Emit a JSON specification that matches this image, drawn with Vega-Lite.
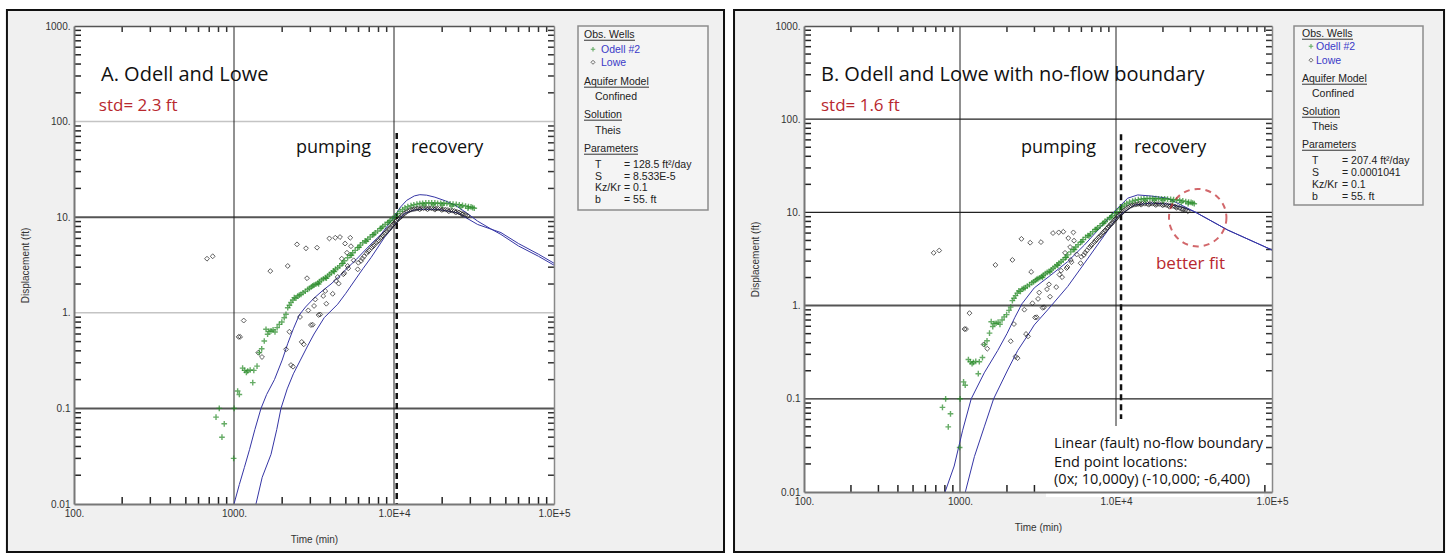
{
 "$schema": "https://vega.github.io/schema/vega-lite/v6.json",
 "background": "white",
 "padding": {"left": 5, "top": 8, "right": 5, "bottom": 0},
 "config": {"view": {"stroke": null}, "font": "Liberation Sans"},
 "datasets": {
  "xticks": [{"t":200,"sb":0.01,"st":1000},{"t":300,"sb":0.01,"st":1000},{"t":400,"sb":0.01,"st":1000},{"t":500,"sb":0.01,"st":1000},{"t":600,"sb":0.01,"st":1000},{"t":700,"sb":0.01,"st":1000},{"t":800,"sb":0.01,"st":1000},{"t":900,"sb":0.01,"st":1000},
             {"t":2000,"sb":0.01,"st":1000},{"t":3000,"sb":0.01,"st":1000},{"t":4000,"sb":0.01,"st":1000},{"t":5000,"sb":0.01,"st":1000},{"t":6000,"sb":0.01,"st":1000},{"t":7000,"sb":0.01,"st":1000},{"t":8000,"sb":0.01,"st":1000},{"t":9000,"sb":0.01,"st":1000},
             {"t":20000,"sb":0.01,"st":1000},{"t":30000,"sb":0.01,"st":1000},{"t":40000,"sb":0.01,"st":1000},{"t":50000,"sb":0.01,"st":1000},{"t":60000,"sb":0.01,"st":1000},{"t":70000,"sb":0.01,"st":1000},{"t":80000,"sb":0.01,"st":1000},{"t":90000,"sb":0.01,"st":1000}],
  "yticks": [{"s":0.02,"tl":100,"tr":100000},{"s":0.03,"tl":100,"tr":100000},{"s":0.04,"tl":100,"tr":100000},{"s":0.05,"tl":100,"tr":100000},{"s":0.06,"tl":100,"tr":100000},{"s":0.07,"tl":100,"tr":100000},{"s":0.08,"tl":100,"tr":100000},{"s":0.09,"tl":100,"tr":100000},
             {"s":0.2,"tl":100,"tr":100000},{"s":0.3,"tl":100,"tr":100000},{"s":0.4,"tl":100,"tr":100000},{"s":0.5,"tl":100,"tr":100000},{"s":0.6,"tl":100,"tr":100000},{"s":0.7,"tl":100,"tr":100000},{"s":0.8,"tl":100,"tr":100000},{"s":0.9,"tl":100,"tr":100000},
             {"s":2,"tl":100,"tr":100000},{"s":3,"tl":100,"tr":100000},{"s":4,"tl":100,"tr":100000},{"s":5,"tl":100,"tr":100000},{"s":6,"tl":100,"tr":100000},{"s":7,"tl":100,"tr":100000},{"s":8,"tl":100,"tr":100000},{"s":9,"tl":100,"tr":100000},
             {"s":20,"tl":100,"tr":100000},{"s":30,"tl":100,"tr":100000},{"s":40,"tl":100,"tr":100000},{"s":50,"tl":100,"tr":100000},{"s":60,"tl":100,"tr":100000},{"s":70,"tl":100,"tr":100000},{"s":80,"tl":100,"tr":100000},{"s":90,"tl":100,"tr":100000},
             {"s":200,"tl":100,"tr":100000},{"s":300,"tl":100,"tr":100000},{"s":400,"tl":100,"tr":100000},{"s":500,"tl":100,"tr":100000},{"s":600,"tl":100,"tr":100000},{"s":700,"tl":100,"tr":100000},{"s":800,"tl":100,"tr":100000},{"s":900,"tl":100,"tr":100000}],
  "odell": [
   {"t":772,"s":0.081},{"t":809,"s":0.1},{"t":841,"s":0.05},{"t":869,"s":0.069},{"t":995,"s":0.03},{"t":1002,"s":0.1},{"t":1054,"s":0.152},{"t":1080,"s":0.14},
   {"t":1132,"s":0.264},{"t":1165,"s":0.25},{"t":1195,"s":0.238},{"t":1218,"s":0.246},{"t":1262,"s":0.252},{"t":1310,"s":0.186},{"t":1330,"s":0.25},{"t":1393,"s":0.277},
   {"t":1439,"s":0.383},{"t":1490,"s":0.42},{"t":1546,"s":0.507},{"t":1585,"s":0.672},{"t":1622,"s":0.596},{"t":1655,"s":0.64},{"t":1703,"s":0.646},{"t":1755,"s":0.665},
   {"t":1804,"s":0.63},{"t":1860,"s":0.7},{"t":1918,"s":0.757},{"t":1990,"s":0.8},{"t":2061,"s":0.889},{"t":2113,"s":0.964},{"t":2167,"s":1.13},{"t":2220,"s":1.2},
   {"t":2270,"s":1.28},{"t":2330,"s":1.36},{"t":2382,"s":1.44},{"t":2440,"s":1.42},{"t":2500,"s":1.5},{"t":2560,"s":1.53},{"t":2622,"s":1.56},{"t":2700,"s":1.62},
   {"t":2790,"s":1.68},{"t":2885,"s":1.76},{"t":2960,"s":1.8},{"t":3040,"s":1.86},{"t":3100,"s":1.91},{"t":3165,"s":1.95},{"t":3250,"s":1.99},{"t":3335,"s":2.05},
   {"t":3420,"s":2.12},{"t":3520,"s":2.2},{"t":3620,"s":2.27},{"t":3720,"s":2.33},{"t":3847,"s":2.42},{"t":3950,"s":2.52},{"t":4060,"s":2.62},{"t":4180,"s":2.74},
   {"t":4310,"s":2.86},{"t":4446,"s":2.96},{"t":4580,"s":3.1},{"t":4730,"s":3.27},{"t":4900,"s":3.5},{"t":5130,"s":3.77},{"t":5320,"s":4.0},{"t":5520,"s":4.25},
   {"t":5720,"s":4.5},{"t":5931,"s":4.8},{"t":6150,"s":5.1},{"t":6380,"s":5.4},{"t":6600,"s":5.65},{"t":6849,"s":5.87},{"t":7100,"s":6.2},{"t":7350,"s":6.55},
   {"t":7620,"s":6.85},{"t":7907,"s":7.18},{"t":8200,"s":7.6},{"t":8500,"s":8.0},{"t":8800,"s":8.4},{"t":9128,"s":8.77},{"t":9450,"s":9.2},{"t":9800,"s":9.7},
   {"t":10150,"s":10.2},{"t":10540,"s":10.9},{"t":10900,"s":11.5},{"t":11300,"s":12.0},{"t":11700,"s":12.5},{"t":12200,"s":12.9},{"t":12770,"s":13.2},{"t":13300,"s":13.5},
   {"t":13900,"s":13.7},{"t":14500,"s":13.9},{"t":15100,"s":14.0},{"t":15800,"s":14.1},{"t":16500,"s":14.1},{"t":17200,"s":14.1},{"t":18000,"s":14.1},{"t":18740,"s":14.0},
   {"t":19600,"s":14.0},{"t":20500,"s":14.0},{"t":21400,"s":13.9},{"t":22400,"s":13.8},{"t":23400,"s":13.7},{"t":24500,"s":13.6},{"t":25600,"s":13.5},{"t":26800,"s":13.3},
   {"t":28000,"s":13.1},{"t":29200,"s":12.9},{"t":30300,"s":12.8},{"t":31000,"s":12.6},{"t":31750,"s":12.4},
   {"t":15400,"s":13.4},{"t":17600,"s":13.5},{"t":20000,"s":13.4},{"t":23000,"s":13.1},{"t":26200,"s":12.8},{"t":29000,"s":12.4},
   {"t":3380,"s":2.0},{"t":3780,"s":2.3},{"t":4240,"s":2.7},{"t":4800,"s":3.3},{"t":5420,"s":4.0},{"t":6050,"s":4.85},{"t":6720,"s":5.6},{"t":7480,"s":6.6},{"t":8350,"s":7.7},{"t":9300,"s":8.9}
  ],
  "lowe": [
   {"t":678,"s":3.68},{"t":736,"s":3.9},{"t":1069,"s":0.56},{"t":1092,"s":0.56},{"t":1150,"s":0.83},{"t":1419,"s":0.383},{"t":1496,"s":0.345},{"t":1686,"s":2.73},
   {"t":2115,"s":0.415},{"t":2167,"s":3.09},{"t":2218,"s":0.634},{"t":2270,"s":0.284},{"t":2339,"s":0.273},{"t":2476,"s":5.2},{"t":2585,"s":0.904},{"t":2650,"s":0.496},
   {"t":2728,"s":0.468},{"t":2818,"s":4.73},{"t":2860,"s":2.3},{"t":2912,"s":1.06},{"t":3027,"s":0.745},{"t":3104,"s":0.75},{"t":3165,"s":1.18},{"t":3220,"s":1.38},
   {"t":3304,"s":4.8},{"t":3381,"s":0.949},{"t":3457,"s":0.96},{"t":3612,"s":1.5},{"t":3720,"s":1.69},{"t":3776,"s":1.245},{"t":3945,"s":6.0},{"t":4138,"s":1.58},
   {"t":4295,"s":6.1},{"t":4342,"s":2.15},{"t":4446,"s":2.37},{"t":4512,"s":2.02},{"t":4597,"s":6.2},{"t":4712,"s":3.68},{"t":4822,"s":2.53},{"t":4887,"s":2.6},
   {"t":4945,"s":5.3},{"t":5080,"s":4.25},{"t":5130,"s":3.09},{"t":5180,"s":2.92},{"t":5330,"s":6.1},{"t":5383,"s":4.97},{"t":5598,"s":3.54},{"t":5931,"s":2.85},
   {"t":5990,"s":3.34},{"t":6220,"s":3.49},{"t":6500,"s":3.9},{"t":6750,"s":4.2},{"t":7000,"s":4.5},{"t":7250,"s":4.8},{"t":7500,"s":5.1},{"t":7750,"s":5.4},
   {"t":8000,"s":5.7},{"t":8250,"s":6.05},{"t":8500,"s":6.4},{"t":8750,"s":6.75},{"t":9000,"s":7.1},{"t":9250,"s":7.45},{"t":9500,"s":7.8},{"t":9750,"s":8.2},
   {"t":10000,"s":8.6},{"t":10270,"s":9.05},{"t":10540,"s":9.5},{"t":10800,"s":9.8},{"t":11030,"s":10.1},{"t":11300,"s":10.5},{"t":11590,"s":10.9},{"t":11900,"s":11.3},
   {"t":12200,"s":11.6},{"t":12500,"s":11.8},{"t":12800,"s":12.0},{"t":13150,"s":12.1},{"t":13500,"s":12.2},{"t":13850,"s":12.3},{"t":14200,"s":12.4},{"t":14750,"s":12.4},
   {"t":15300,"s":12.4},{"t":15900,"s":12.4},{"t":16500,"s":12.4},{"t":17100,"s":12.4},{"t":17700,"s":12.3},{"t":18300,"s":12.3},{"t":18900,"s":12.3},{"t":19600,"s":12.2},
   {"t":20300,"s":12.1},{"t":21000,"s":12.0},{"t":21700,"s":11.9},{"t":22500,"s":11.8},{"t":23200,"s":11.7},{"t":23900,"s":11.6},{"t":24700,"s":11.4},{"t":25500,"s":11.2},
   {"t":26300,"s":11.0},{"t":27100,"s":10.8},{"t":28000,"s":10.6},{"t":28880,"s":10.3},
   {"t":6350,"s":3.7},{"t":6880,"s":4.35},{"t":7380,"s":4.95},{"t":7880,"s":5.55},{"t":8380,"s":6.2},{"t":8880,"s":6.9},{"t":9380,"s":7.6},{"t":9880,"s":8.4},{"t":10400,"s":9.3},
   {"t":14500,"s":12.1},{"t":16200,"s":12.1},{"t":18000,"s":12.0},{"t":19900,"s":11.9},{"t":22000,"s":11.5},{"t":24300,"s":11.2},{"t":26700,"s":10.7}
  ],
  "fitA": [
   {"curve":"A1","t":1000,"s":0.01},{"curve":"A1","t":1080,"s":0.016},{"curve":"A1","t":1160,"s":0.024},{"curve":"A1","t":1250,"s":0.037},{"curve":"A1","t":1350,"s":0.06},
   {"curve":"A1","t":1475,"s":0.1},{"curve":"A1","t":1600,"s":0.14},{"curve":"A1","t":1790,"s":0.2},{"curve":"A1","t":2000,"s":0.32},{"curve":"A1","t":2170,"s":0.48},
   {"curve":"A1","t":2350,"s":0.68},{"curve":"A1","t":2560,"s":0.95},{"curve":"A1","t":2800,"s":1.15},{"curve":"A1","t":3160,"s":1.42},{"curve":"A1","t":3600,"s":1.72},
   {"curve":"A1","t":4040,"s":2.0},{"curve":"A1","t":4600,"s":2.45},{"curve":"A1","t":5130,"s":2.96},{"curve":"A1","t":5800,"s":3.6},{"curve":"A1","t":6520,"s":4.43},
   {"curve":"A1","t":7400,"s":5.5},{"curve":"A1","t":8300,"s":6.6},{"curve":"A1","t":9200,"s":8.3},{"curve":"A1","t":10040,"s":10.2},{"curve":"A1","t":11000,"s":12.8},
   {"curve":"A1","t":12000,"s":15.0},{"curve":"A1","t":13400,"s":16.7},{"curve":"A1","t":14500,"s":17.2},{"curve":"A1","t":16000,"s":17.0},{"curve":"A1","t":18000,"s":16.2},
   {"curve":"A1","t":21000,"s":14.8},{"curve":"A1","t":24000,"s":13.4},{"curve":"A1","t":28000,"s":11.3},{"curve":"A1","t":33300,"s":9.1},{"curve":"A1","t":40000,"s":7.6},
   {"curve":"A1","t":46600,"s":6.6},{"curve":"A1","t":60000,"s":5.0},{"curve":"A1","t":80000,"s":3.9},{"curve":"A1","t":100000,"s":3.15},
   {"curve":"A2","t":1372,"s":0.01},{"curve":"A2","t":1500,"s":0.019},{"curve":"A2","t":1703,"s":0.033},{"curve":"A2","t":1850,"s":0.06},{"curve":"A2","t":1966,"s":0.1},
   {"curve":"A2","t":2150,"s":0.16},{"curve":"A2","t":2350,"s":0.23},{"curve":"A2","t":2600,"s":0.32},{"curve":"A2","t":2885,"s":0.45},{"curve":"A2","t":3165,"s":0.6},
   {"curve":"A2","t":3663,"s":0.889},{"curve":"A2","t":4446,"s":1.23},{"curve":"A2","t":5000,"s":1.6},{"curve":"A2","t":5650,"s":2.15},{"curve":"A2","t":6400,"s":2.9},
   {"curve":"A2","t":7180,"s":3.77},{"curve":"A2","t":8690,"s":6.1},{"curve":"A2","t":10540,"s":9.1},{"curve":"A2","t":11590,"s":10.9},{"curve":"A2","t":13400,"s":11.9},
   {"curve":"A2","t":14750,"s":12.1},{"curve":"A2","t":18740,"s":12.1},{"curve":"A2","t":25000,"s":11.1},{"curve":"A2","t":33300,"s":8.4},{"curve":"A2","t":46600,"s":6.9},
   {"curve":"A2","t":60000,"s":5.3},{"curve":"A2","t":80000,"s":4.1},{"curve":"A2","t":100000,"s":3.3}
  ],
  "fitB": [
   {"curve":"B1","t":802,"s":0.01},{"curve":"B1","t":918,"s":0.019},{"curve":"B1","t":1040,"s":0.046},{"curve":"B1","t":1180,"s":0.1},{"curve":"B1","t":1431,"s":0.19},
   {"curve":"B1","t":1745,"s":0.33},{"curve":"B1","t":2000,"s":0.5},{"curve":"B1","t":2250,"s":0.75},{"curve":"B1","t":2500,"s":1.05},{"curve":"B1","t":2993,"s":1.55},
   {"curve":"B1","t":3828,"s":2.13},{"curve":"B1","t":4898,"s":2.96},{"curve":"B1","t":6268,"s":4.46},{"curve":"B1","t":8017,"s":7.03},{"curve":"B1","t":9750,"s":10.2},
   {"curve":"B1","t":11880,"s":14.2},{"curve":"B1","t":13770,"s":15.4},{"curve":"B1","t":16750,"s":15.0},{"curve":"B1","t":21400,"s":14.2},{"curve":"B1","t":31800,"s":10.2},
   {"curve":"B1","t":52000,"s":6.47},{"curve":"B1","t":100000,"s":3.95},
   {"curve":"B2","t":1082,"s":0.01},{"curve":"B2","t":1237,"s":0.024},{"curve":"B2","t":1431,"s":0.05},{"curve":"B2","t":1643,"s":0.1},{"curve":"B2","t":2022,"s":0.204},
   {"curve":"B2","t":2344,"s":0.33},{"curve":"B2","t":2718,"s":0.48},{"curve":"B2","t":2993,"s":0.62},{"curve":"B2","t":3648,"s":0.9},{"curve":"B2","t":4898,"s":1.6},
   {"curve":"B2","t":6268,"s":2.84},{"curve":"B2","t":8017,"s":5.06},{"curve":"B2","t":10260,"s":9.0},{"curve":"B2","t":13100,"s":12.0},{"curve":"B2","t":16750,"s":12.6},
   {"curve":"B2","t":21400,"s":12.3},{"curve":"B2","t":27000,"s":11.3},{"curve":"B2","t":31800,"s":10.2},{"curve":"B2","t":52000,"s":6.47},{"curve":"B2","t":100000,"s":3.95}
  ],
  "legA": [
   {"role":"header","col":0.6,"line":0.8,"text":"Obs. Wells"},
   {"role":"header","col":0.6,"line":3.93,"text":"Aquifer Model"},
   {"role":"header","col":0.6,"line":6.13,"text":"Solution"},
   {"role":"header","col":0.6,"line":8.4,"text":"Parameters"},
   {"role":"well","col":2.3,"line":1.8,"text":"Odell #2"},
   {"role":"well","col":2.3,"line":2.67,"text":"Lowe"},
   {"role":"body","col":1.7,"line":4.93,"text":"Confined"},
   {"role":"body","col":1.7,"line":7.2,"text":"Theis"},
   {"role":"body","col":1.7,"line":9.47,"text":"T"},
   {"role":"body","col":4.6,"line":9.47,"text":"= 128.5 ft²/day"},
   {"role":"body","col":1.7,"line":10.27,"text":"S"},
   {"role":"body","col":4.6,"line":10.27,"text":"= 8.533E-5"},
   {"role":"body","col":1.7,"line":11.0,"text":"Kz/Kr"},
   {"role":"body","col":4.6,"line":11.0,"text":"= 0.1"},
   {"role":"body","col":1.7,"line":11.8,"text":"b"},
   {"role":"body","col":4.6,"line":11.8,"text":"= 55. ft"}
  ],
  "ulA": [
   {"col":0.6,"col2":5.7,"line":0.95},{"col":0.6,"col2":7.1,"line":4.08},{"col":0.6,"col2":4.4,"line":6.28},{"col":0.6,"col2":6.0,"line":8.55}
  ],
  "symA": [
   {"well":"Odell #2","col":1.5,"line":1.55},{"well":"Lowe","col":1.5,"line":2.42}
  ],
  "legB": [
   {"role":"header","col":0.8,"line":0.73,"text":"Obs. Wells"},
   {"role":"header","col":0.8,"line":3.73,"text":"Aquifer Model"},
   {"role":"header","col":0.8,"line":5.93,"text":"Solution"},
   {"role":"header","col":0.8,"line":8.13,"text":"Parameters"},
   {"role":"well","col":2.2,"line":1.6,"text":"Odell #2"},
   {"role":"well","col":2.2,"line":2.53,"text":"Lowe"},
   {"role":"body","col":1.8,"line":4.73,"text":"Confined"},
   {"role":"body","col":1.8,"line":6.93,"text":"Theis"},
   {"role":"body","col":1.8,"line":9.2,"text":"T"},
   {"role":"body","col":4.8,"line":9.2,"text":"= 207.4 ft²/day"},
   {"role":"body","col":1.8,"line":10.0,"text":"S"},
   {"role":"body","col":4.8,"line":10.0,"text":"= 0.0001041"},
   {"role":"body","col":1.8,"line":10.8,"text":"Kz/Kr"},
   {"role":"body","col":4.8,"line":10.8,"text":"= 0.1"},
   {"role":"body","col":1.8,"line":11.6,"text":"b"},
   {"role":"body","col":4.8,"line":11.6,"text":"= 55. ft"}
  ],
  "ulB": [
   {"col":0.8,"col2":5.9,"line":0.88},{"col":0.8,"col2":7.3,"line":3.88},{"col":0.8,"col2":4.6,"line":6.08},{"col":0.8,"col2":6.2,"line":8.28}
  ],
  "symB": [
   {"well":"Odell #2","col":1.7,"line":1.35},{"well":"Lowe","col":1.7,"line":2.28}
  ]
 },
 "hconcat": [
  {
   "width": 480, "height": 478,
   "layer": [
    {"data":{"values":[{}]},"mark":{"type":"rect","fill":"#f0f0f0","stroke":"#111111","strokeWidth":2,"clip":false},
     "encoding":{"x":{"datum":38.1,"type":"quantitative","scale":{"type":"log","domain":[100,100000],"nice":false},"axis":null},"x2":{"datum":1155000},
                 "y":{"datum":0.00315,"type":"quantitative","scale":{"type":"log","domain":[0.01,1000],"nice":false},"axis":null},"y2":{"datum":1469}}},
    {"data":{"values":[{}]},"mark":{"type":"rect","fill":"#ffffff"},
     "encoding":{"x":{"datum":100,"type":"quantitative","scale":{"type":"log","domain":[100,100000],"nice":false},"axis":null},"x2":{"datum":100000},
                 "y":{"datum":0.01,"type":"quantitative","scale":{"type":"log","domain":[0.01,1000],"nice":false},"axis":null},"y2":{"datum":1000}}},
    {"data":{"values":[{"s":100},{"s":1}]},"mark":{"type":"rule","stroke":"#c4c4c4","strokeWidth":1.5},
     "encoding":{"y":{"field":"s","type":"quantitative","scale":{"type":"log","domain":[0.01,1000],"nice":false},"axis":null}}},
    {"data":{"values":[{"s":10},{"s":0.1}]},"mark":{"type":"rule","stroke":"#555555","strokeWidth":2},
     "encoding":{"y":{"field":"s","type":"quantitative","scale":{"type":"log","domain":[0.01,1000],"nice":false},"axis":null}}},
    {"data":{"values":[{"t":1000},{"t":10000}]},"mark":{"type":"rule","stroke":"#222222","strokeWidth":1},
     "encoding":{"x":{"field":"t","type":"quantitative","scale":{"type":"log","domain":[100,100000],"nice":false},"axis":null}}},
    {"data":{"name":"xticks"},"mark":{"type":"tick","orient":"vertical","size":14,"thickness":1.5,"color":"#222222","opacity":1,"clip":true},
     "encoding":{"x":{"field":"t","type":"quantitative","scale":{"type":"log","domain":[100,100000],"nice":false},"axis":null},
                 "y":{"field":"sb","type":"quantitative","scale":{"type":"log","domain":[0.01,1000],"nice":false},"axis":null}}},
    {"data":{"name":"xticks"},"mark":{"type":"tick","orient":"vertical","size":12,"thickness":1.5,"color":"#333333","opacity":1,"clip":true},
     "encoding":{"x":{"field":"t","type":"quantitative","scale":{"type":"log","domain":[100,100000],"nice":false},"axis":null},
                 "y":{"field":"st","type":"quantitative","scale":{"type":"log","domain":[0.01,1000],"nice":false},"axis":null}}},
    {"data":{"name":"yticks"},"mark":{"type":"tick","orient":"horizontal","size":14,"thickness":1.5,"color":"#222222","opacity":1,"clip":true},
     "encoding":{"y":{"field":"s","type":"quantitative","scale":{"type":"log","domain":[0.01,1000],"nice":false},"axis":null},
                 "x":{"field":"tl","type":"quantitative","scale":{"type":"log","domain":[100,100000],"nice":false},"axis":null}}},
    {"data":{"name":"yticks"},"mark":{"type":"tick","orient":"horizontal","size":12,"thickness":1.5,"color":"#333333","opacity":1,"clip":true},
     "encoding":{"y":{"field":"s","type":"quantitative","scale":{"type":"log","domain":[0.01,1000],"nice":false},"axis":null},
                 "x":{"field":"tr","type":"quantitative","scale":{"type":"log","domain":[100,100000],"nice":false},"axis":null}}},
    {"data":{"values":[{"t":10400,"s":76,"s2":0.01}]},"mark":{"type":"rule","stroke":"#111111","strokeWidth":2.5,"strokeDash":[6,4]},
     "encoding":{"x":{"field":"t","type":"quantitative","scale":{"type":"log","domain":[100,100000],"nice":false},"axis":null},
                 "y":{"field":"s","type":"quantitative","scale":{"type":"log","domain":[0.01,1000],"nice":false},"axis":null},"y2":{"field":"s2"}}},
    {"data":{"name":"fitA"},"mark":{"type":"line","color":"#3535a5","strokeWidth":1,"clip":true},
     "encoding":{"x":{"field":"t","type":"quantitative","scale":{"type":"log","domain":[100,100000],"nice":false},"axis":null},
                 "y":{"field":"s","type":"quantitative","scale":{"type":"log","domain":[0.01,1000],"nice":false},"axis":null},
                 "detail":{"field":"curve"}}},
    {"data":{"name":"lowe"},"mark":{"type":"point","shape":"diamond","filled":false,"size":24,"strokeWidth":1,"color":"#1a1a1a"},
     "encoding":{"x":{"field":"t","type":"quantitative","scale":{"type":"log","domain":[100,100000],"nice":false},
                      "axis":{"orient":"top","values":[100,1000,10000,100000],"labels":false,"ticks":false,"domainColor":"#555555","domainWidth":1.5,"title":null,"grid":false,"zindex":1}},
                 "y":{"field":"s","type":"quantitative","scale":{"type":"log","domain":[0.01,1000],"nice":false},
                      "axis":{"orient":"right","values":[0.01,0.1,1,10,100,1000],"labels":false,"ticks":false,"domainColor":"#888888","domainWidth":1.5,"title":null,"grid":false,"zindex":1}}}},
    {"data":{"name":"odell"},"mark":{"type":"point","shape":"M-1,0L1,0M0,-1L0,1","filled":false,"size":32,"strokeWidth":1.4,"color":"#268a26"},
     "encoding":{"x":{"field":"t","type":"quantitative","scale":{"type":"log","domain":[100,100000],"nice":false},
                      "axis":{"orient":"bottom","values":[100,1000,10000,100000],
                              "labelExpr":"datum.value == 100 ? '100.' : datum.value == 1000 ? '1000.' : datum.value == 10000 ? '1.0E+4' : datum.value == 100000 ? '1.0E+5' : ''",
                              "labelOverlap":false,"labelFlush":false,"labelBound":false,"ticks":false,"domainColor":"#777777","domainWidth":2,
                              "labelFont":"Liberation Sans","labelFontSize":10,"labelColor":"#333333","labelPadding":4,
                              "title":"Time (min)","titleFont":"Liberation Sans","titleFontSize":10,"titleFontWeight":"normal","titleColor":"#333333","titlePadding":16,"grid":false,"zindex":1}},
                 "y":{"field":"s","type":"quantitative","scale":{"type":"log","domain":[0.01,1000],"nice":false},
                      "axis":{"orient":"left","values":[0.01,0.1,1,10,100,1000],
                              "labelExpr":"datum.value == 1000 ? '1000.' : datum.value == 100 ? '100.' : datum.value == 10 ? '10.' : datum.value == 1 ? '1.' : datum.value == 0.1 ? '0.1' : datum.value == 0.01 ? '0.01' : ''",
                              "labelOverlap":false,"labelFlush":false,"labelBound":false,"ticks":false,"domainColor":"#777777","domainWidth":2,
                              "labelFont":"Liberation Sans","labelFontSize":10,"labelColor":"#333333","labelPadding":4,
                              "title":"Displacement (ft)","titleFont":"Liberation Sans","titleFontSize":10,"titleFontWeight":"normal","titleColor":"#333333","titlePadding":14,"grid":false,"zindex":1}}}},
    {"data":{"values":[{"t":147.5,"s":266,"label":"A. Odell and Lowe"}]},"mark":{"type":"text","font":"Open Sans","fontSize":20,"align":"left","baseline":"alphabetic","color":"#111111"},
     "encoding":{"x":{"field":"t","type":"quantitative","scale":{"type":"log","domain":[100,100000],"nice":false},"axis":null},
                 "y":{"field":"s","type":"quantitative","scale":{"type":"log","domain":[0.01,1000],"nice":false},"axis":null},"text":{"field":"label"}}},
    {"data":{"values":[{"t":143,"s":129,"label":"std= 2.3 ft"}]},"mark":{"type":"text","font":"Open Sans","fontSize":17,"align":"left","baseline":"alphabetic","color":"#b8282e"},
     "encoding":{"x":{"field":"t","type":"quantitative","scale":{"type":"log","domain":[100,100000],"nice":false},"axis":null},
                 "y":{"field":"s","type":"quantitative","scale":{"type":"log","domain":[0.01,1000],"nice":false},"axis":null},"text":{"field":"label"}}},
    {"data":{"values":[{"t":2441,"s":47,"label":"pumping"},{"t":12770,"s":47,"label":"recovery"}]},"mark":{"type":"text","font":"Open Sans","fontSize":18,"align":"left","baseline":"alphabetic","color":"#111111"},
     "encoding":{"x":{"field":"t","type":"quantitative","scale":{"type":"log","domain":[100,100000],"nice":false},"axis":null},
                 "y":{"field":"s","type":"quantitative","scale":{"type":"log","domain":[0.01,1000],"nice":false},"axis":null},"text":{"field":"label"}}}
   ],
   "resolve": {"axis": {"x": "independent", "y": "independent"}}
  },
  {"width": 24, "height": 10, "data": {"values": []}, "mark": "point", "encoding": {}},
  {
   "width": 130, "height": 184,
   "view": {"fill": "#f4f4f4", "stroke": "#8c8c8c", "strokeWidth": 1.5},
   "layer": [
    {"data":{"name":"ulA"},"mark":{"type":"rule","stroke":"#333333","strokeWidth":1},
     "encoding":{"x":{"field":"col","type":"quantitative","scale":{"domain":[0,13],"nice":false,"zero":false},"axis":null},"x2":{"field":"col2"},
                 "y":{"field":"line","type":"quantitative","scale":{"domain":[0,12.27],"nice":false,"zero":false,"reverse":true},"axis":null}}},
    {"data":{"name":"legA"},"transform":[{"filter":"datum.role != 'well'"}],"mark":{"type":"text","font":"Liberation Sans","fontSize":10.5,"align":"left","baseline":"alphabetic","color":"#222222"},
     "encoding":{"x":{"field":"col","type":"quantitative","scale":{"domain":[0,13],"nice":false,"zero":false},"axis":null},
                 "y":{"field":"line","type":"quantitative","scale":{"domain":[0,12.27],"nice":false,"zero":false,"reverse":true},"axis":null},"text":{"field":"text"}}},
    {"data":{"name":"legA"},"transform":[{"filter":"datum.role == 'well'"}],"mark":{"type":"text","font":"Liberation Sans","fontSize":10.5,"align":"left","baseline":"alphabetic","color":"#3a3ac8"},
     "encoding":{"x":{"field":"col","type":"quantitative","scale":{"domain":[0,13],"nice":false,"zero":false},"axis":null},
                 "y":{"field":"line","type":"quantitative","scale":{"domain":[0,12.27],"nice":false,"zero":false,"reverse":true},"axis":null},"text":{"field":"text"}}},
    {"data":{"name":"symA"},"transform":[{"filter":"datum.well == 'Odell #2'"}],"mark":{"type":"point","shape":"M-1,0L1,0M0,-1L0,1","filled":false,"size":20,"strokeWidth":1.1,"color":"#268a26"},
     "encoding":{"x":{"field":"col","type":"quantitative","scale":{"domain":[0,13],"nice":false,"zero":false},"axis":null},
                 "y":{"field":"line","type":"quantitative","scale":{"domain":[0,12.27],"nice":false,"zero":false,"reverse":true},"axis":null}}},
    {"data":{"name":"symA"},"transform":[{"filter":"datum.well == 'Lowe'"}],"mark":{"type":"point","shape":"diamond","filled":false,"size":16,"strokeWidth":0.9,"color":"#1e1e1e"},
     "encoding":{"x":{"field":"col","type":"quantitative","scale":{"domain":[0,13],"nice":false,"zero":false},"axis":null},
                 "y":{"field":"line","type":"quantitative","scale":{"domain":[0,12.27],"nice":false,"zero":false,"reverse":true},"axis":null}}}
   ]
  },
  {"width": 96, "height": 10, "data": {"values": []}, "mark": "point", "encoding": {}},
  {
   "width": 468, "height": 466,
   "layer": [
    {"data":{"values":[{}]},"mark":{"type":"rect","fill":"#f0f0f0","stroke":"#111111","strokeWidth":2,"clip":false},
     "encoding":{"x":{"datum":35.6,"type":"quantitative","scale":{"type":"log","domain":[100,100000],"nice":false},"axis":null},"x2":{"datum":1267000},
                 "y":{"datum":0.00227,"type":"quantitative","scale":{"type":"log","domain":[0.01,1000],"nice":false},"axis":null},"y2":{"datum":1486}}},
    {"data":{"values":[{}]},"mark":{"type":"rect","fill":"#ffffff"},
     "encoding":{"x":{"datum":100,"type":"quantitative","scale":{"type":"log","domain":[100,100000],"nice":false},"axis":null},"x2":{"datum":100000},
                 "y":{"datum":0.01,"type":"quantitative","scale":{"type":"log","domain":[0.01,1000],"nice":false},"axis":null},"y2":{"datum":1000}}},
    {"data":{"values":[{"s":100},{"s":10},{"s":0.1}]},"mark":{"type":"rule","stroke":"#222222","strokeWidth":1.2},
     "encoding":{"y":{"field":"s","type":"quantitative","scale":{"type":"log","domain":[0.01,1000],"nice":false},"axis":null}}},
    {"data":{"values":[{"s":1}]},"mark":{"type":"rule","stroke":"#555555","strokeWidth":2},
     "encoding":{"y":{"field":"s","type":"quantitative","scale":{"type":"log","domain":[0.01,1000],"nice":false},"axis":null}}},
    {"data":{"values":[{"t":1000},{"t":10000}]},"mark":{"type":"rule","stroke":"#222222","strokeWidth":1},
     "encoding":{"x":{"field":"t","type":"quantitative","scale":{"type":"log","domain":[100,100000],"nice":false},"axis":null}}},
    {"data":{"name":"xticks"},"mark":{"type":"tick","orient":"vertical","size":14,"thickness":1.5,"color":"#222222","opacity":1,"clip":true},
     "encoding":{"x":{"field":"t","type":"quantitative","scale":{"type":"log","domain":[100,100000],"nice":false},"axis":null},
                 "y":{"field":"sb","type":"quantitative","scale":{"type":"log","domain":[0.01,1000],"nice":false},"axis":null}}},
    {"data":{"name":"xticks"},"mark":{"type":"tick","orient":"vertical","size":12,"thickness":1.5,"color":"#333333","opacity":1,"clip":true},
     "encoding":{"x":{"field":"t","type":"quantitative","scale":{"type":"log","domain":[100,100000],"nice":false},"axis":null},
                 "y":{"field":"st","type":"quantitative","scale":{"type":"log","domain":[0.01,1000],"nice":false},"axis":null}}},
    {"data":{"name":"yticks"},"mark":{"type":"tick","orient":"horizontal","size":14,"thickness":1.5,"color":"#222222","opacity":1,"clip":true},
     "encoding":{"y":{"field":"s","type":"quantitative","scale":{"type":"log","domain":[0.01,1000],"nice":false},"axis":null},
                 "x":{"field":"tl","type":"quantitative","scale":{"type":"log","domain":[100,100000],"nice":false},"axis":null}}},
    {"data":{"name":"yticks"},"mark":{"type":"tick","orient":"horizontal","size":12,"thickness":1.5,"color":"#333333","opacity":1,"clip":true},
     "encoding":{"y":{"field":"s","type":"quantitative","scale":{"type":"log","domain":[0.01,1000],"nice":false},"axis":null},
                 "x":{"field":"tr","type":"quantitative","scale":{"type":"log","domain":[100,100000],"nice":false},"axis":null}}},
    {"data":{"values":[{"t":10770,"s":69,"s2":0.0607}]},"mark":{"type":"rule","stroke":"#111111","strokeWidth":2.5,"strokeDash":[6,4]},
     "encoding":{"x":{"field":"t","type":"quantitative","scale":{"type":"log","domain":[100,100000],"nice":false},"axis":null},
                 "y":{"field":"s","type":"quantitative","scale":{"type":"log","domain":[0.01,1000],"nice":false},"axis":null},"y2":{"field":"s2"}}},
    {"data":{"name":"fitB"},"mark":{"type":"line","color":"#3535a5","strokeWidth":1,"clip":true},
     "encoding":{"x":{"field":"t","type":"quantitative","scale":{"type":"log","domain":[100,100000],"nice":false},"axis":null},
                 "y":{"field":"s","type":"quantitative","scale":{"type":"log","domain":[0.01,1000],"nice":false},"axis":null},
                 "detail":{"field":"curve"}}},
    {"data":{"name":"lowe"},"mark":{"type":"point","shape":"diamond","filled":false,"size":24,"strokeWidth":1,"color":"#1a1a1a"},
     "encoding":{"x":{"field":"t","type":"quantitative","scale":{"type":"log","domain":[100,100000],"nice":false},
                      "axis":{"orient":"top","values":[100,1000,10000,100000],"labels":false,"ticks":false,"domainColor":"#555555","domainWidth":1.5,"title":null,"grid":false,"zindex":1}},
                 "y":{"field":"s","type":"quantitative","scale":{"type":"log","domain":[0.01,1000],"nice":false},
                      "axis":{"orient":"right","values":[0.01,0.1,1,10,100,1000],"labels":false,"ticks":false,"domainColor":"#888888","domainWidth":1.5,"title":null,"grid":false,"zindex":1}}}},
    {"data":{"name":"odell"},"mark":{"type":"point","shape":"M-1,0L1,0M0,-1L0,1","filled":false,"size":32,"strokeWidth":1.4,"color":"#268a26"},
     "encoding":{"x":{"field":"t","type":"quantitative","scale":{"type":"log","domain":[100,100000],"nice":false},
                      "axis":{"orient":"bottom","values":[100,1000,10000,100000],
                              "labelExpr":"datum.value == 100 ? '100.' : datum.value == 1000 ? '1000.' : datum.value == 10000 ? '1.0E+4' : datum.value == 100000 ? '1.0E+5' : ''",
                              "labelOverlap":false,"labelFlush":false,"labelBound":false,"ticks":false,"domainColor":"#777777","domainWidth":2,
                              "labelFont":"Liberation Sans","labelFontSize":10,"labelColor":"#333333","labelPadding":4,
                              "title":"Time (min)","titleFont":"Liberation Sans","titleFontSize":10,"titleFontWeight":"normal","titleColor":"#333333","titlePadding":16,"grid":false,"zindex":1}},
                 "y":{"field":"s","type":"quantitative","scale":{"type":"log","domain":[0.01,1000],"nice":false},
                      "axis":{"orient":"left","values":[0.01,0.1,1,10,100,1000],
                              "labelExpr":"datum.value == 1000 ? '1000.' : datum.value == 100 ? '100.' : datum.value == 10 ? '10.' : datum.value == 1 ? '1.' : datum.value == 0.1 ? '0.1' : datum.value == 0.01 ? '0.01' : ''",
                              "labelOverlap":false,"labelFlush":false,"labelBound":false,"ticks":false,"domainColor":"#777777","domainWidth":2,
                              "labelFont":"Liberation Sans","labelFontSize":10,"labelColor":"#333333","labelPadding":4,
                              "title":"Displacement (ft)","titleFont":"Liberation Sans","titleFontSize":10,"titleFontWeight":"normal","titleColor":"#333333","titlePadding":14,"grid":false,"zindex":1}}}},
    {"data":{"values":[{"t":33400,"s":8.77}]},"mark":{"type":"point","shape":"circle","filled":false,"size":3300,"stroke":"#c0282d","strokeWidth":2,"strokeDash":[6,5]},
     "encoding":{"x":{"field":"t","type":"quantitative","scale":{"type":"log","domain":[100,100000],"nice":false},"axis":null},
                 "y":{"field":"s","type":"quantitative","scale":{"type":"log","domain":[0.01,1000],"nice":false},"axis":null}}},
    {"data":{"values":[{}]},"mark":{"type":"rect","fill":"#ffffff","clip":false},
     "encoding":{"x":{"datum":3556,"type":"quantitative","scale":{"type":"log","domain":[100,100000],"nice":false},"axis":null},"x2":{"datum":88900},
                 "y":{"datum":0.00884,"type":"quantitative","scale":{"type":"log","domain":[0.01,1000],"nice":false},"axis":null},"y2":{"datum":0.051}}},
    {"data":{"values":[{"t":4010,"s":0.0297,"label":"Linear (fault) no-flow boundary"},{"t":4010,"s":0.01854,"label":"End point locations:"},{"t":4010,"s":0.01219,"label":"(0x; 10,000y) (-10,000; -6,400)"}]},
     "mark":{"type":"text","font":"Open Sans","fontSize":14.5,"align":"left","baseline":"alphabetic","color":"#111111","clip":false},
     "encoding":{"x":{"field":"t","type":"quantitative","scale":{"type":"log","domain":[100,100000],"nice":false},"axis":null},
                 "y":{"field":"s","type":"quantitative","scale":{"type":"log","domain":[0.01,1000],"nice":false},"axis":null},"text":{"field":"label"}}},
    {"data":{"values":[{"t":128.5,"s":257,"label":"B. Odell and Lowe with no-flow boundary"}]},"mark":{"type":"text","font":"Open Sans","fontSize":20,"align":"left","baseline":"alphabetic","color":"#111111"},
     "encoding":{"x":{"field":"t","type":"quantitative","scale":{"type":"log","domain":[100,100000],"nice":false},"axis":null},
                 "y":{"field":"s","type":"quantitative","scale":{"type":"log","domain":[0.01,1000],"nice":false},"axis":null},"text":{"field":"label"}}},
    {"data":{"values":[{"t":128.5,"s":122,"label":"std= 1.6 ft"},{"t":18030,"s":2.47,"label":"better fit"}]},"mark":{"type":"text","font":"Open Sans","fontSize":17,"align":"left","baseline":"alphabetic","color":"#b8282e"},
     "encoding":{"x":{"field":"t","type":"quantitative","scale":{"type":"log","domain":[100,100000],"nice":false},"axis":null},
                 "y":{"field":"s","type":"quantitative","scale":{"type":"log","domain":[0.01,1000],"nice":false},"axis":null},"text":{"field":"label"}}},
    {"data":{"values":[{"t":2460,"s":43.4,"label":"pumping"},{"t":13030,"s":43.4,"label":"recovery"}]},"mark":{"type":"text","font":"Open Sans","fontSize":18,"align":"left","baseline":"alphabetic","color":"#111111"},
     "encoding":{"x":{"field":"t","type":"quantitative","scale":{"type":"log","domain":[100,100000],"nice":false},"axis":null},
                 "y":{"field":"s","type":"quantitative","scale":{"type":"log","domain":[0.01,1000],"nice":false},"axis":null},"text":{"field":"label"}}}
   ],
   "resolve": {"axis": {"x": "independent", "y": "independent"}}
  },
  {"width": 22, "height": 10, "data": {"values": []}, "mark": "point", "encoding": {}},
  {
   "width": 129, "height": 179,
   "view": {"fill": "#f4f4f4", "stroke": "#8c8c8c", "strokeWidth": 1.5},
   "layer": [
    {"data":{"name":"ulB"},"mark":{"type":"rule","stroke":"#333333","strokeWidth":1},
     "encoding":{"x":{"field":"col","type":"quantitative","scale":{"domain":[0,12.9],"nice":false,"zero":false},"axis":null},"x2":{"field":"col2"},
                 "y":{"field":"line","type":"quantitative","scale":{"domain":[0,11.93],"nice":false,"zero":false,"reverse":true},"axis":null}}},
    {"data":{"name":"legB"},"transform":[{"filter":"datum.role != 'well'"}],"mark":{"type":"text","font":"Liberation Sans","fontSize":10.5,"align":"left","baseline":"alphabetic","color":"#222222"},
     "encoding":{"x":{"field":"col","type":"quantitative","scale":{"domain":[0,12.9],"nice":false,"zero":false},"axis":null},
                 "y":{"field":"line","type":"quantitative","scale":{"domain":[0,11.93],"nice":false,"zero":false,"reverse":true},"axis":null},"text":{"field":"text"}}},
    {"data":{"name":"legB"},"transform":[{"filter":"datum.role == 'well'"}],"mark":{"type":"text","font":"Liberation Sans","fontSize":10.5,"align":"left","baseline":"alphabetic","color":"#3a3ac8"},
     "encoding":{"x":{"field":"col","type":"quantitative","scale":{"domain":[0,12.9],"nice":false,"zero":false},"axis":null},
                 "y":{"field":"line","type":"quantitative","scale":{"domain":[0,11.93],"nice":false,"zero":false,"reverse":true},"axis":null},"text":{"field":"text"}}},
    {"data":{"name":"symB"},"transform":[{"filter":"datum.well == 'Odell #2'"}],"mark":{"type":"point","shape":"M-1,0L1,0M0,-1L0,1","filled":false,"size":20,"strokeWidth":1.1,"color":"#268a26"},
     "encoding":{"x":{"field":"col","type":"quantitative","scale":{"domain":[0,12.9],"nice":false,"zero":false},"axis":null},
                 "y":{"field":"line","type":"quantitative","scale":{"domain":[0,11.93],"nice":false,"zero":false,"reverse":true},"axis":null}}},
    {"data":{"name":"symB"},"transform":[{"filter":"datum.well == 'Lowe'"}],"mark":{"type":"point","shape":"diamond","filled":false,"size":16,"strokeWidth":0.9,"color":"#1e1e1e"},
     "encoding":{"x":{"field":"col","type":"quantitative","scale":{"domain":[0,12.9],"nice":false,"zero":false},"axis":null},
                 "y":{"field":"line","type":"quantitative","scale":{"domain":[0,11.93],"nice":false,"zero":false,"reverse":true},"axis":null}}}
   ]
  }
 ],
 "spacing": 0,
 "bounds": "flush"
}
